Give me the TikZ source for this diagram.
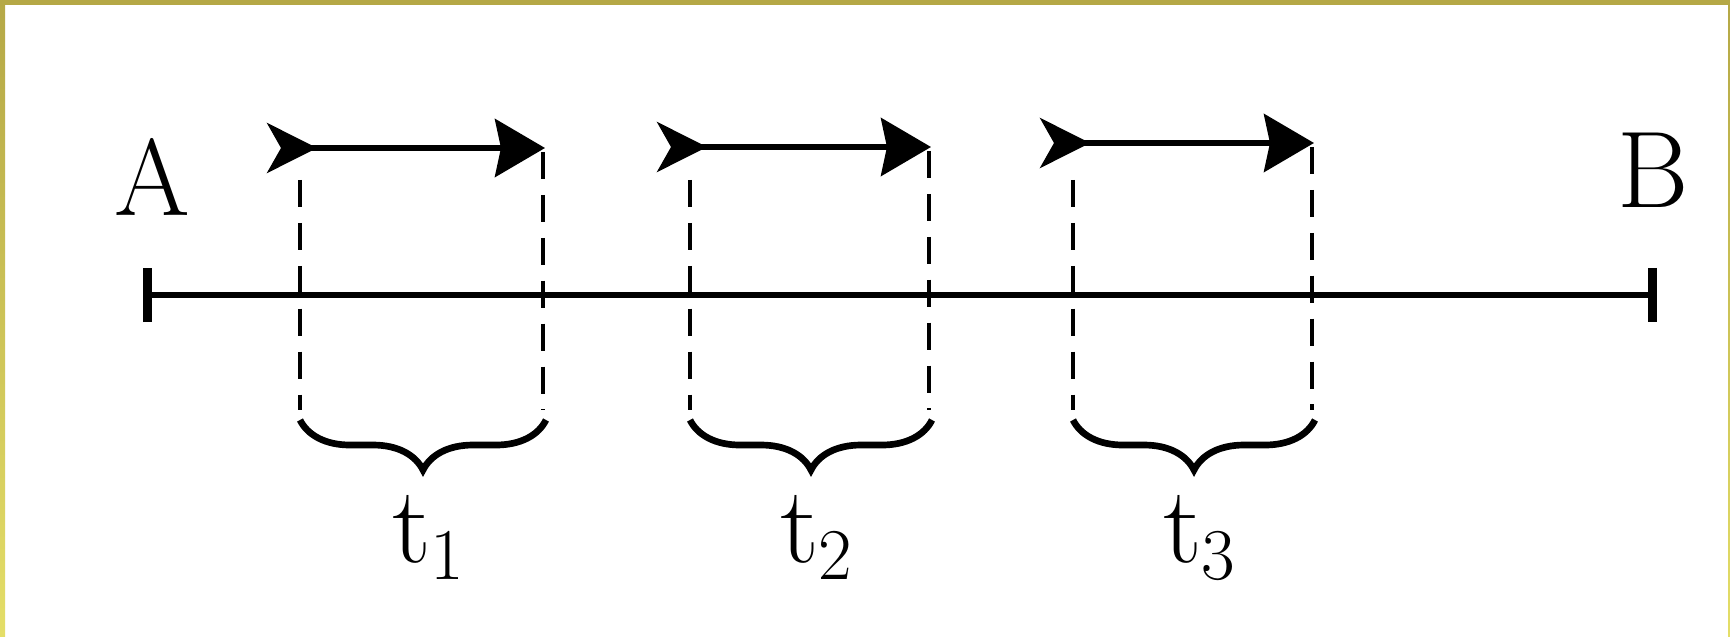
\documentclass[tikz,border=0pt]{standalone}
\usetikzlibrary{arrows.meta,decorations.pathreplacing,positioning,calc}
\definecolor{frameolive}{RGB}{181,168,70}
\definecolor{frameyellow}{RGB}{228,222,104}
\begin{document}
\begin{tikzpicture}[x=0.01cm,y=-0.01cm,
    every node/.style={inner sep=0pt,font=\fontsize{31}{36}\selectfont},
    axis/.style={line width=1.7pt,{Bar[width=0.54cm,line width=2.6pt]}-{Bar[width=0.54cm,line width=2.6pt]}},
    move/.style={line width=1.5pt,{Stealth[reversed,length=0.5cm,width=0.5cm,inset=0.14cm]}-{Stealth[length=0.5cm,width=0.58cm,inset=0.06cm]}},
    guide/.style={line width=1.2pt,dash pattern=on 7.7pt off 4.5pt},
    span/.style={line width=1.9pt,decorate,decoration={brace,mirror,amplitude=0.5cm}}]
  \useasboundingbox (0,0) rectangle (1730,637);
  % frame
  \fill[frameolive] (0,0) rectangle (1730,5);
  \shade[top color=frameolive,bottom color=frameyellow] (0,0) rectangle (5,637);
  \shade[top color=frameolive,bottom color=frameyellow] (1728,0) rectangle (1730,637);
  % road from A to B
  \node (A) at (152,177) {A};
  \node (B) at (1653,170) {B};
  \coordinate (left) at (143,295);
  \coordinate (right) at (1657,295);
  \draw[axis] (left) -- (right);
  % the three moves
  \foreach \i/\tail/\lx/\rx/\ay in {1/267/300/543/148, 2/657/690/929/147, 3/1040/1073/1312/143} {
    \coordinate (tail\i) at (\tail,\ay);
    \coordinate (head\i) at (\rx+2,\ay);
    \coordinate (lt\i) at (\lx,180);
    \coordinate (rt\i) at (\rx,\ay+4);
    \coordinate (lb\i) at (\lx,410);
    \coordinate (rb\i) at (\rx,410);
    \coordinate (bl\i) at (\lx,420);
    \coordinate (br\i) at (\rx+3,420);
    \draw[move] (tail\i) -- (head\i);
    \draw[guide] (lt\i) -- (lb\i);
    \draw[guide] (rt\i) -- (rb\i);
    \draw[span] (bl\i) -- (br\i);
    \node[anchor=base] (t\i) at ($(bl\i)!0.5!(br\i)+(6,143)$) {t$_\i$};
  }
\end{tikzpicture}
\end{document}
